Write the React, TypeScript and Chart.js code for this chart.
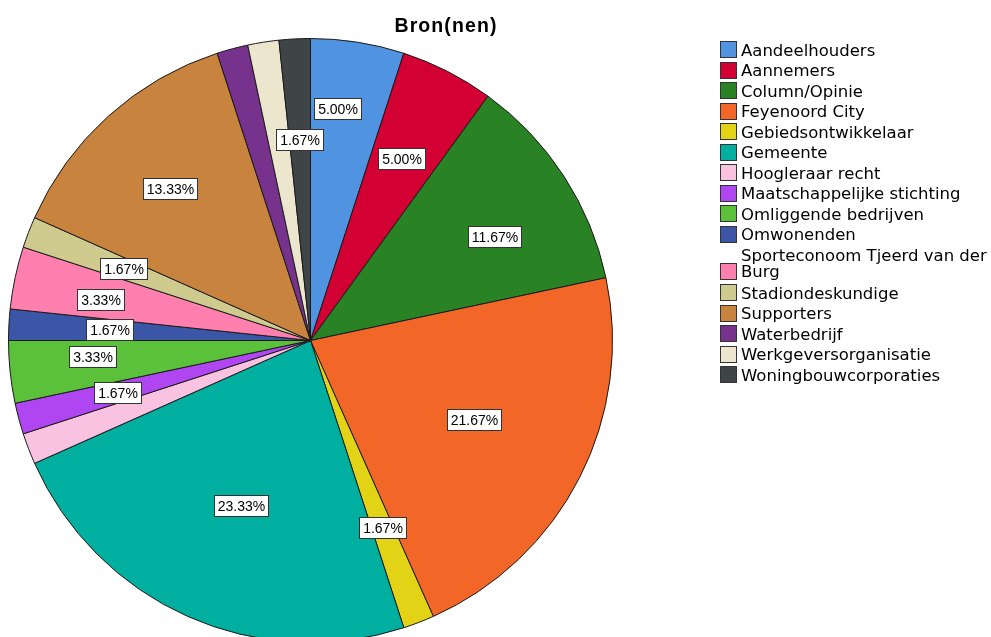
import React, { useEffect, useRef } from 'react';
import { Chart, registerables } from 'chart.js';

Chart.register(...registerables);

const TITLE = 'Bron(nen)';

const CATEGORIES = [
  'Aandeelhouders',
  'Aannemers',
  'Column/Opinie',
  'Feyenoord City',
  'Gebiedsontwikkelaar',
  'Gemeente',
  'Hoogleraar recht',
  'Maatschappelijke stichting',
  'Omliggende bedrijven',
  'Omwonenden',
  'Sporteconoom Tjeerd van der Burg',
  'Stadiondeskundige',
  'Supporters',
  'Waterbedrijf',
  'Werkgeversorganisatie',
  'Woningbouwcorporaties',
];

const COUNTS = [3, 3, 7, 13, 1, 14, 1, 1, 2, 1, 2, 1, 8, 1, 1, 1];

const COLORS = [
  '#5094E1',
  '#D30033',
  '#298325',
  '#F26628',
  '#E2D316',
  '#00AFA0',
  '#F9C2E0',
  '#B045F2',
  '#5BC13B',
  '#3B56A7',
  '#FF80AF',
  '#CFCB8E',
  '#C8833F',
  '#77328D',
  '#ECE6CE',
  '#3F4547',
];

// label placement: fraction of the radius, and angle shift in degrees (null = label hidden)
const LABEL_RADIUS: (number | null)[] = [0.775, 0.675, 0.7, 0.6, 0.665, 0.593, null, 0.66, 0.725, 0.665, 0.708, 0.664, 0.686, null, null, 0.665];
const LABEL_ANGLE_SHIFT = [-2.3, -0.5, 3.4, -1.3, 0, -1, 0, 0, 1.8, 0, -1, 0, -0.7, 0, 0, 0];

const overlayPlugin = {
  id: 'overlay',
  afterDatasetsDraw(chart: any) {
    const ctx: CanvasRenderingContext2D = chart.ctx;
    const meta = chart.getDatasetMeta(0);
    const data = chart.data.datasets[0].data as number[];
    const colors = chart.data.datasets[0].backgroundColor as string[];
    const labels = chart.data.labels as string[];
    const total = data.reduce((a, b) => a + b, 0);

    ctx.save();
    // slice labels
    ctx.font = '14px "Liberation Sans", Arial, sans-serif';
    ctx.textAlign = 'center';
    ctx.textBaseline = 'middle';
    meta.data.forEach((arc: any, i: number) => {
      const rf = LABEL_RADIUS[i];
      if (rf == null) return;
      const p = arc.getProps(['x', 'y', 'startAngle', 'endAngle', 'outerRadius'], true);
      const mid = (p.startAngle + p.endAngle) / 2 + (LABEL_ANGLE_SHIFT[i] * Math.PI) / 180;
      const cx = p.x + Math.cos(mid) * p.outerRadius * rf;
      const cy = p.y + Math.sin(mid) * p.outerRadius * rf;
      const text = ((data[i] / total) * 100).toFixed(2) + '%';
      const w = Math.round(ctx.measureText(text).width + 7);
      const h = 21;
      const x0 = Math.round(cx - w / 2) + 0.5;
      const y0 = Math.round(cy - h / 2) + 0.5;
      ctx.fillStyle = '#ffffff';
      ctx.fillRect(x0, y0, w, h);
      ctx.strokeStyle = '#333333';
      ctx.lineWidth = 1;
      ctx.strokeRect(x0, y0, w, h);
      ctx.fillStyle = '#000000';
      ctx.fillText(text, x0 + w / 2, y0 + h / 2 + 1);
    });

    // title
    ctx.font = 'bold 19.5px "Liberation Sans", Arial, sans-serif';
    (ctx as any).letterSpacing = '1.1px';
    ctx.textAlign = 'center';
    ctx.textBaseline = 'alphabetic';
    ctx.fillStyle = '#000000';
    ctx.fillText(TITLE, 446, 31.5);
    (ctx as any).letterSpacing = '0px';

    // legend
    ctx.font = '16.5px "DejaVu Sans", sans-serif';
    ctx.textAlign = 'left';
    const maxW = 262;
    let rowTop = 41;
    labels.forEach((lab, i) => {
      const words = lab.split(' ');
      const lines: string[] = [];
      let cur = '';
      words.forEach((wd) => {
        const test = cur ? cur + ' ' + wd : wd;
        if (cur && ctx.measureText(test).width > maxW) {
          lines.push(cur);
          cur = wd;
        } else {
          cur = test;
        }
      });
      if (cur) lines.push(cur);
      const lineH = 16.5;
      lines.forEach((ln, k) => {
        ctx.fillStyle = '#000000';
        ctx.fillText(ln, 741, rowTop + 14.5 + k * lineH);
      });
      const lastBase = rowTop + 14.5 + (lines.length - 1) * lineH;
      const sq = Math.round(lastBase - 14.5) + 0.5;
      ctx.fillStyle = colors[i];
      ctx.fillRect(720.5, sq, 16, 16);
      ctx.strokeStyle = '#333333';
      ctx.lineWidth = 1;
      ctx.strokeRect(720.5, sq, 16, 16);
      rowTop += 20.5 + (lines.length - 1) * 17.8;
    });
    ctx.restore();
  },
};

export default function App() {
  const canvasRef = useRef<HTMLCanvasElement | null>(null);

  useEffect(() => {
    document.body.style.margin = '0';
    const canvas = canvasRef.current;
    if (!canvas) return;
    const chart = new Chart(canvas, {
      type: 'pie',
      data: {
        labels: CATEGORIES,
        datasets: [
          {
            data: COUNTS,
            backgroundColor: COLORS,
            borderColor: '#1a1a1a',
            borderWidth: 1,
            hoverBorderWidth: 1,
          },
        ],
      },
      options: {
        responsive: false,
        maintainAspectRatio: false,
        animation: false,
        layout: { padding: { left: 8, right: 378, top: 38, bottom: 17 } },
        plugins: {
          legend: { display: false },
          title: { display: false },
          tooltip: { enabled: false },
        },
      },
      plugins: [overlayPlugin],
    });
    return () => chart.destroy();
  }, []);

  return (
    <div style={{ width: 991, height: 637, overflow: 'hidden', position: 'relative', background: '#fff' }}>
      <canvas ref={canvasRef} width={991} height={660} style={{ display: 'block' }} />
    </div>
  );
}
